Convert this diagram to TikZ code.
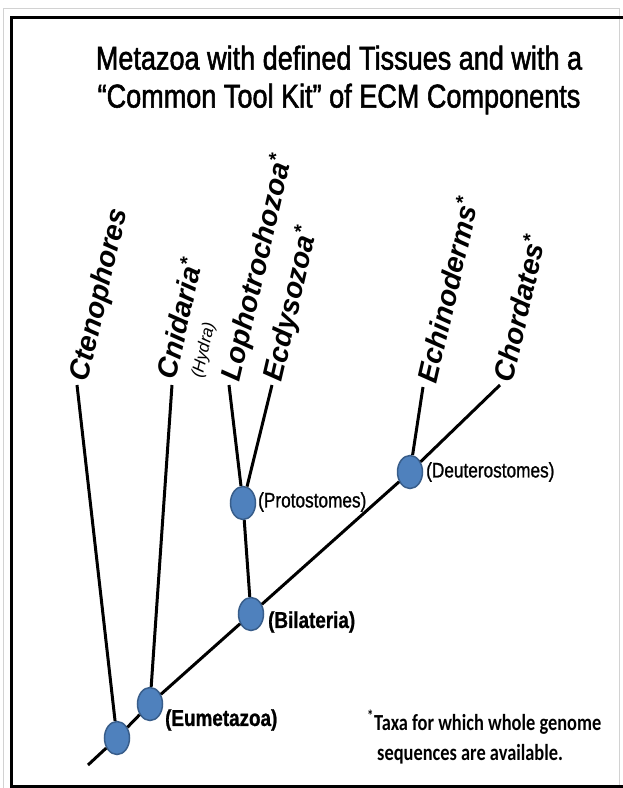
\documentclass[tikz,border=0pt]{standalone}
\usepackage{fontspec}
\setmainfont{Liberation Sans}
\newfontfamily\titlefont[FakeStretch=0.82, FakeBold=1.6]{Liberation Sans}
\newfontfamily\labelfont[FakeStretch=0.82, FakeBold=1]{Liberation Sans}
\newfontfamily\notefont[FakeStretch=0.8]{Carlito}
\usetikzlibrary{shapes.geometric}
\definecolor{nodeblue}{HTML}{4F81BD}
\definecolor{nodeedge}{HTML}{385D8A}
\tikzset{
  clade/.style={ellipse, fill=nodeblue, draw=nodeedge, line width=1.5pt,
    minimum width=25pt, minimum height=33pt, inner sep=0pt},
  taxon/.style={anchor=west, inner sep=3pt, rotate=77,
    font=\fontsize{28.5}{28.5}\selectfont\bfseries\itshape},
  cladename/.style={anchor=west, inner sep=0pt, font=\labelfont\fontsize{21}{21}\selectfont},
  branch/.style={line width=3pt}
}

\begin{document}
\begin{tikzpicture}[x=1pt, y=-1pt]
    \useasboundingbox (0,0) rectangle (622,788);
    \draw[gray!35, line width=1pt] (3,8.5) rectangle (619.5,800);
    \draw[line width=3pt] (11,17) rectangle (640,786);
    \node[align=center, font=\titlefont\fontsize{33}{38}\selectfont] (title) at (339,80)
        {Metazoa with defined Tissues and with a\\“Common Tool Kit” of ECM Components};
    % clades
    \coordinate (base) at (88,765);
    \node[clade] (root) at (117,738) {};
    \node[clade] (eume) at (150,704) {};
    \node[clade] (bila) at (251,614) {};
    \node[clade] (prot) at (243,503) {};
    \node[clade] (deut) at (410,472) {};
    % tips of the branches
    \coordinate (cten) at (77,385);
    \coordinate (cnid) at (172,385);
    \coordinate (loph) at (229,385);
    \coordinate (ecdy) at (272,385);
    \coordinate (echi) at (423,387);
    \coordinate (chor) at (500,385);
    \draw[branch] (base) -- (root) -- (eume) -- (bila) -- (deut) -- (chor);
    \draw[branch] (root) -- (cten);
    \draw[branch] (eume) -- (cnid);
    \draw[branch] (bila) -- (prot);
    \draw[branch] (prot) -- (loph);
    \draw[branch] (prot) -- (ecdy);
    \draw[branch] (deut) -- (echi);
    % taxa
    \node[taxon] (ctenname) at (80,384) {Ctenophores};
    \node[taxon] (cnidname) at (164,381) {Cnidaria\textsuperscript{*}};
    \node[taxon, font=\fontsize{17}{17}\selectfont\itshape] (hydra) at (197,381) {(Hydra)};
    \node[taxon] (lophname) at (231,384) {Lophotrochozoa\textsuperscript{*}};
    \node[taxon] (ecdyname) at (273,384) {Ecdysozoa\textsuperscript{*}};
    \node[taxon] (echiname) at (425,385) {Echinoderms\textsuperscript{*}};
    \node[taxon] (chorname) at (501,384) {Chordates\textsuperscript{*}};
    % clade names
    \node[cladename] (protname) at (258,502) {(Protostomes)};
    \node[cladename] (deutname) at (426,472) {(Deuterostomes)};
    \node[cladename, font=\labelfont\fontsize{23}{23}\selectfont\bfseries] (bilaname) at (268,622) {(Bilateria)};
    \node[cladename, font=\labelfont\fontsize{23}{23}\selectfont\bfseries] (eumename) at (165,720) {(Eumetazoa)};
    \node[anchor=north west, align=left, inner sep=0pt,
        font=\notefont\bfseries\fontsize{23}{30}\selectfont] (note) at (367,710)
        {\textsuperscript{*}Taxa for which whole genome\\\hspace*{10pt}sequences are available.};
\end{tikzpicture}
\end{document}
